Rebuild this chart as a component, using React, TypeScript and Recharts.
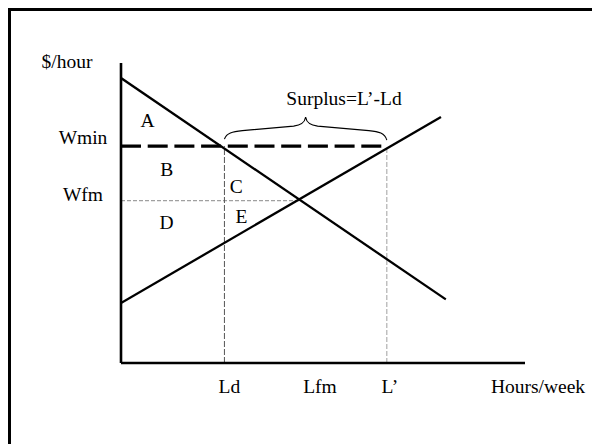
import React from 'react';
import { ComposedChart, Line, XAxis, YAxis, ReferenceLine, ReferenceDot } from 'recharts';

// demand and supply curves (data units, 0–100 on both axes)
const demandX = [0, 80.4];
const demandY = [95, 21.2];
const supplyX = [0, 79.2];
const supplyY = [20, 82];

const wMin = 72.3;
const wFm = 54.1;
const lD = 25.6;
const lFm = 44.3;
const lPrime = 65.8;

const xTickValues = [lD, lFm, lPrime];
const xTickNames = ['Ld', 'Lfm', 'L’'];
const yTickValues = [wFm, wMin];
const yTickNames = ['Wfm', 'Wmin'];

const areaNames = ['A', 'B', 'C', 'D', 'E'];
const areaX = [6.6, 11.3, 28.5, 11.3, 29.8];
const areaY = [78.7, 62.3, 56.7, 44.7, 46.6];

const surplusText = 'Surplus=L’-Ld';
const surplusX = 55.2;
const surplusY = 86;

const FONT = "'Liberation Serif', 'Times New Roman', serif";
const FS = 19.5;

const demand = demandX.map((x, i) => ({ x, y: demandY[i] }));
const supply = supplyX.map((x, i) => ({ x, y: supplyY[i] }));

// small nudges so labels sit where the original put them
const xTickShift = [5, 20, 3];
const yTickShift = [0, -2];

function XTick({ x, y, payload }: any) {
  const i = xTickValues.indexOf(payload.value);
  if (i < 0) return null;
  return (
    <text x={x + xTickShift[i]} y={y + 30} textAnchor="middle" fontFamily={FONT} fontSize={FS} fill="#000">
      {xTickNames[i]}
    </text>
  );
}

function YTick({ x, y, payload }: any) {
  const i = yTickValues.indexOf(payload.value);
  if (i < 0) return null;
  return (
    <text x={x - 38} y={y + yTickShift[i]} textAnchor="middle" fontFamily={FONT} fontSize={FS} fill="#000">
      {yTickNames[i]}
    </text>
  );
}

function Brace(props: any) {
  const { x1, y1, x2 } = props;
  const y = y1;
  const mx = (x1 + x2) / 2;
  const d = [
    `M${x1},${y - 7}`,
    `C${x1 + 2},${y - 13} ${x1 + 8},${y - 14.5} ${x1 + 18},${y - 15.5}`,
    `L${mx - 12},${y - 20}`,
    `C${mx - 5},${y - 21} ${mx - 1},${y - 23} ${mx},${y - 29}`,
    `C${mx + 1},${y - 23} ${mx + 5},${y - 21} ${mx + 12},${y - 20}`,
    `L${x2 - 18},${y - 15.5}`,
    `C${x2 - 8},${y - 14.5} ${x2 - 2},${y - 13} ${x2},${y - 6}`,
  ].join(' ');
  return <path d={d} fill="none" stroke="#000" strokeWidth={1.1} />;
}

function textDot(value: string) {
  return (p: any) => (
    <text x={p.cx} y={p.cy} textAnchor="middle" fontFamily={FONT} fontSize={FS} fill="#000">
      {value}
    </text>
  );
}

export default function App() {
  return (
    <div style={{ position: 'absolute', left: 0, top: 0, width: 592, height: 444, overflow: 'hidden', background: '#fff' }}>
      <div
        style={{
          position: 'absolute',
          left: 8,
          top: 8,
          width: 700,
          height: 600,
          borderTop: '3px solid #000',
          borderLeft: '3px solid #000',
        }}
      />
      <div style={{ position: 'absolute', left: 0, top: 0 }}>
        <ComposedChart width={592} height={444} margin={{ top: 63, right: 67, bottom: 51, left: 61 }}>
          <XAxis
            type="number"
            dataKey="x"
            domain={[0, 100]}
            ticks={xTickValues}
            interval={0}
            tick={<XTick />}
            tickLine={false}
            tickSize={0}
            tickMargin={0}
            height={30}
            axisLine={{ stroke: '#000', strokeWidth: 2.6 }}
            allowDataOverflow
            label={{
              content: ({ viewBox }: any) => (
                <text
                  x={viewBox.x + viewBox.width + 13}
                  y={viewBox.y + 30}
                  textAnchor="middle"
                  fontFamily={FONT}
                  fontSize={FS}
                  fill="#000"
                >
                  Hours/week
                </text>
              ),
            }}
          />
          <YAxis
            type="number"
            domain={[0, 100]}
            ticks={yTickValues}
            interval={0}
            tick={<YTick />}
            tickLine={false}
            tickSize={0}
            tickMargin={0}
            width={60}
            axisLine={{ stroke: '#000', strokeWidth: 2.6 }}
            allowDataOverflow
            label={{
              content: ({ viewBox }: any) => (
                <text x={viewBox.x + 6} y={viewBox.y + 5} textAnchor="middle" fontFamily={FONT} fontSize={FS} fill="#000">
                  $/hour
                </text>
              ),
            }}
          />

          <ReferenceLine
            segment={[{ x: 0, y: wFm }, { x: lFm, y: wFm }]}
            stroke="#a0a0a0"
            strokeWidth={1.2}
            strokeDasharray="4 2"
          />
          <ReferenceLine
            segment={[{ x: lD, y: 0 }, { x: lD, y: wMin }]}
            stroke="#555"
            strokeWidth={1}
            strokeDasharray="6 2"
          />
          <ReferenceLine
            segment={[{ x: lPrime, y: 0 }, { x: lPrime, y: wMin }]}
            stroke="#a0a0a0"
            strokeWidth={1}
            strokeDasharray="5 2"
          />
          <ReferenceLine
            segment={[{ x: 0, y: wMin }, { x: lPrime, y: wMin }]}
            stroke="#000"
            strokeWidth={3.2}
            strokeDasharray="20 6.7"
          />
          <ReferenceLine segment={[{ x: lD, y: wMin }, { x: lPrime, y: wMin }]} shape={<Brace />} />

          <Line
            data={demand}
            dataKey="y"
            type="linear"
            stroke="#000"
            strokeWidth={2.3}
            dot={false}
            activeDot={false}
            isAnimationActive={false}
          />
          <Line
            data={supply}
            dataKey="y"
            type="linear"
            stroke="#000"
            strokeWidth={2.3}
            dot={false}
            activeDot={false}
            isAnimationActive={false}
          />

          {areaNames.map((n, i) => (
            <ReferenceDot key={n} x={areaX[i]} y={areaY[i]} r={0} shape={textDot(n)} />
          ))}
          <ReferenceDot x={surplusX} y={surplusY} r={0} shape={textDot(surplusText)} />
        </ComposedChart>
      </div>
    </div>
  );
}
